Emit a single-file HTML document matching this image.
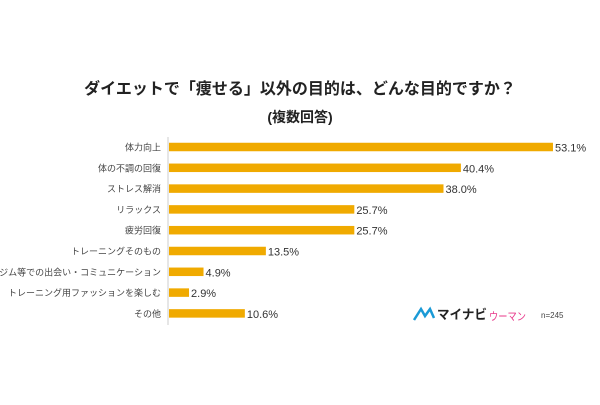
<!DOCTYPE html>
<html><head><meta charset="utf-8"><style>
body{margin:0;background:#fff;width:600px;height:400px;overflow:hidden;font-family:"Liberation Sans","Noto Sans CJK JP",sans-serif;}
svg text{font-family:"Liberation Sans","Noto Sans CJK JP",sans-serif;}
</style></head><body>
<svg id="chart" width="600" height="400">
<text x="300" y="94" text-anchor="middle" font-size="16" font-weight="bold" fill="#222">ダイエットで「痩せる」以外の目的は、どんな目的ですか？</text>
<text x="300" y="122" text-anchor="middle" font-size="14" font-weight="bold" fill="#222">(複数回答)</text>
<line x1="168" y1="137" x2="168" y2="325" stroke="#ccc" stroke-width="1"/>
<g id="bars"></g>
<g>
<path d="M414 320 L421 309 L425 316 L430 309 L434 318" fill="none" stroke="#1a9ad6" stroke-width="2.5"/>
<text x="437" y="319" font-size="13" font-weight="bold" fill="#222" textLength="50" lengthAdjust="spacingAndGlyphs">マイナビ</text>
<text x="489" y="320" font-size="11" fill="#e8388a" textLength="37" lengthAdjust="spacingAndGlyphs">ウーマン</text>
</g>
<text x="541" y="318" font-size="8" fill="#444">n=245</text>
</svg>
<script>
const categories=["体力向上","体の不調の回復","ストレス解消","リラックス","疲労回復","トレーニングそのもの","ジム等での出会い・コミュニケーション","トレーニング用ファッションを楽しむ","その他"];
const values=[53.1,40.4,38.0,25.7,25.7,13.5,4.9,2.9,10.6];
const valueLabels=["53.1%","40.4%","38.0%","25.7%","25.7%","13.5%","4.9%","2.9%","10.6%"];
const ns="http://www.w3.org/2000/svg";
const x0=168, pxPer=7.25, y0=147, step=20.8, bh=8.5;
const xs=v=>x0+v*pxPer, ys=i=>y0+i*step;
const g=document.getElementById('bars');
categories.forEach((c,i)=>{
  const cy=ys(i);
  const lab=document.createElementNS(ns,'text');
  
  
  lab.setAttribute('x',161);lab.setAttribute('y',cy+3.5);lab.setAttribute('text-anchor','end');
  lab.setAttribute('font-size','9');lab.setAttribute('fill','#444');lab.textContent=c;g.appendChild(lab);
  const r=document.createElementNS(ns,'rect');
  
  
  r.setAttribute('x',x0+1);r.setAttribute('y',cy-bh/2);r.setAttribute('width',xs(values[i])-x0-1);r.setAttribute('height',bh);r.setAttribute('fill','#f0aa00');g.appendChild(r);
  const t=document.createElementNS(ns,'text');
  
  
  t.setAttribute('x',xs(values[i])+2);t.setAttribute('y',cy+4.5);t.setAttribute('font-size','11');t.setAttribute('fill','#333');t.textContent=valueLabels[i];g.appendChild(t);
});
</script>
</body></html>
